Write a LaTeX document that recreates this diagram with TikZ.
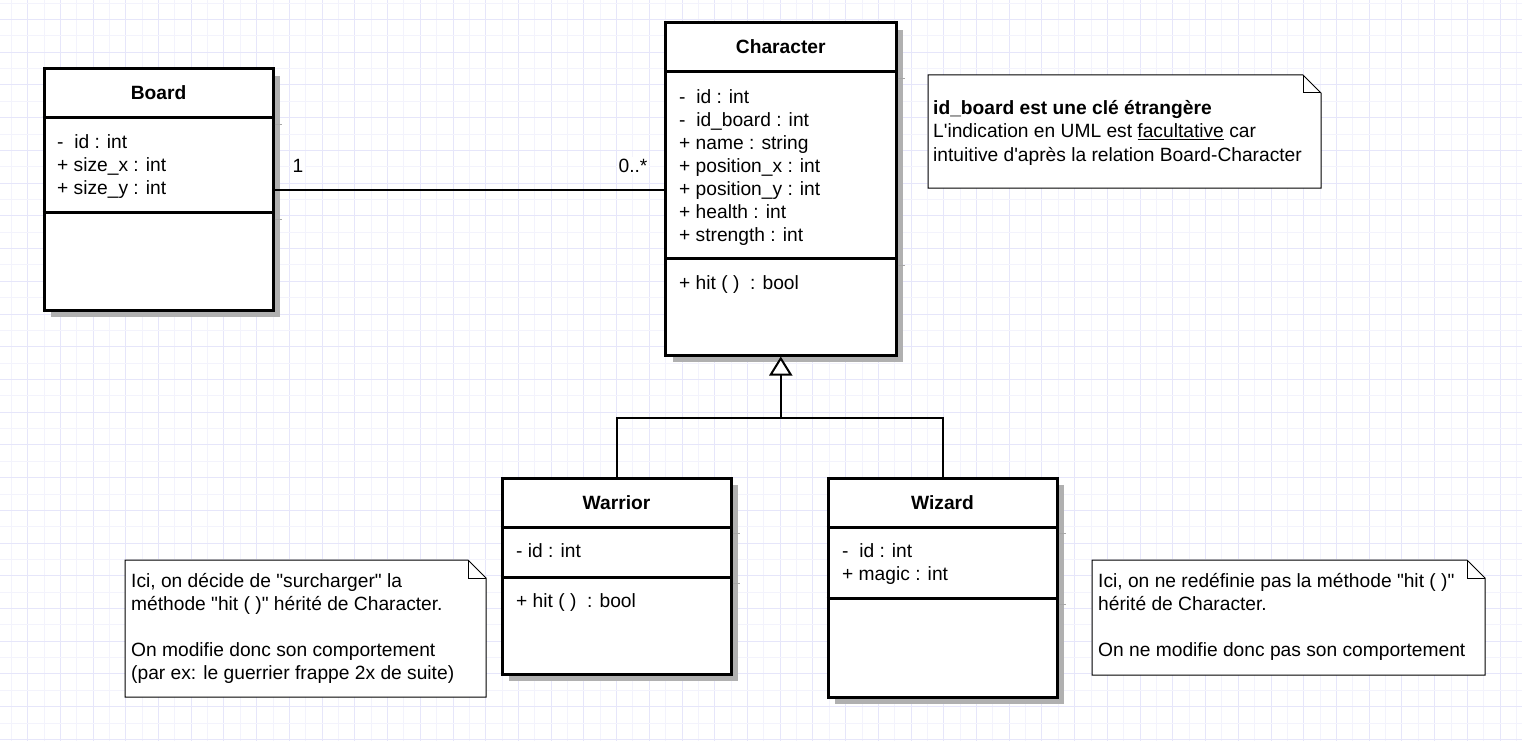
\documentclass[tikz,border=0pt]{standalone}
\usepackage{fontspec}
\setmainfont{Liberation Sans}
\usetikzlibrary{arrows.meta,shadows}
\definecolor{gridlight}{HTML}{F3F3FC}
\definecolor{griddark}{HTML}{E6E6FA}
\definecolor{shadowgray}{HTML}{B0B0B0}
\newcommand\umlfont{\fontsize{19.2}{23}\selectfont}
\tikzset{
  umlbox/.style={draw=black, line width=3pt, fill=white,
    drop shadow={shadow xshift=7pt, shadow yshift=-7pt, fill=shadowgray, opacity=1}},
  divider/.style={line width=3pt},
  txt/.style={anchor=base west, inner sep=0pt, font=\umlfont},
  head/.style={anchor=base, inner sep=0pt, font=\umlfont\bfseries},
  note/.style={draw=black, line width=1pt, fill=white},
  noteline/.style={draw=black, line width=1pt},
  assoc/.style={line width=1.5pt},
  gen/.style={line width=2pt},
  tick/.style={draw=gray!70, line width=1pt},
  mult/.style={anchor=base, inner sep=1.5pt, fill=white, font=\umlfont},
}
\begin{document}
\begin{tikzpicture}[x=1pt,y=-1pt]
\useasboundingbox (0,0) rectangle (1522,741);
\fill[white] (0,0) rectangle (1522,741);
% grid
\foreach \i in {0,...,93}{\pgfmathsetmacro\gx{11.3+16.36*\i}\ifodd\i\draw[griddark,line width=1pt] (\gx,0)--(\gx,741);\else\draw[gridlight,line width=1pt] (\gx,0)--(\gx,741);\fi}
\foreach \i in {0,...,45}{\pgfmathsetmacro\gy{3.2+16.36*\i}\ifodd\i\draw[griddark,line width=1pt] (0,\gy)--(1522,\gy);\else\draw[gridlight,line width=1pt] (0,\gy)--(1522,\gy);\fi}

% ---------- Board
\node[umlbox, minimum width=229pt, minimum height=241pt] (board) at (158.5,189.5) {};
\draw[divider] (board.west |- 0,117.3) -- (board.east |- 0,117.3);
\draw[divider] (board.west |- 0,212) -- (board.east |- 0,212);
\draw[tick] (board.east |- 0,124.5) -- ++(7,0);
\draw[tick] (board.east |- 0,219) -- ++(7,0);
\node[head] (boardT) at (158.5,100) {Board};
\node[txt] (boardA1) at (57,148) {-\ \ id : int};
\node[txt] (boardA2) at (57,171) {+ size\_x : int};
\node[txt] (boardA3) at (57,194) {+ size\_y : int};

% ---------- Character
\node[umlbox, minimum width=230.5pt, minimum height=332pt] (char) at (780.75,189) {};
\draw[divider] (char.west |- 0,71.7) -- (char.east |- 0,71.7);
\draw[divider] (char.west |- 0,258.3) -- (char.east |- 0,258.3);
\draw[tick] (char.east |- 0,78.5) -- ++(7,0);
\draw[tick] (char.east |- 0,265) -- ++(7,0);
\node[head] (charT) at (780.75,54) {Character};
\node[txt] (charA1) at (679,103) {-\ \ id : int};
\node[txt] (charA2) at (679,126) {-\ \ id\_board : int};
\node[txt] (charA3) at (679,149) {+ name : string};
\node[txt] (charA4) at (679,172) {+ position\_x : int};
\node[txt] (charA5) at (679,195) {+ position\_y : int};
\node[txt] (charA6) at (679,218) {+ health : int};
\node[txt] (charA7) at (679,241) {+ strength : int};
\node[txt] (charM1) at (679,289) {+ hit ( )\ \ : bool};

% ---------- Warrior
\node[umlbox, minimum width=229pt, minimum height=196pt] (warrior) at (616.5,576) {};
\draw[divider] (warrior.west |- 0,527) -- (warrior.east |- 0,527);
\draw[divider] (warrior.west |- 0,577) -- (warrior.east |- 0,577);
\draw[tick] (warrior.east |- 0,533.5) -- ++(7,0);
\draw[tick] (warrior.east |- 0,583.5) -- ++(7,0);
\node[head] (warT) at (616.5,509) {Warrior};
\node[txt] (warA1) at (516,557) {- id : int};
\node[txt] (warM1) at (516,607) {+ hit ( )\ \ : bool};

% ---------- Wizard
\node[umlbox, minimum width=229pt, minimum height=219pt] (wizard) at (942.5,587.5) {};
\draw[divider] (wizard.west |- 0,527) -- (wizard.east |- 0,527);
\draw[divider] (wizard.west |- 0,598) -- (wizard.east |- 0,598);
\draw[tick] (wizard.east |- 0,533.5) -- ++(7,0);
\draw[tick] (wizard.east |- 0,604.5) -- ++(7,0);
\node[head] (wizT) at (942.5,509) {Wizard};
\node[txt] (wizA1) at (842,557) {-\ \ id : int};
\node[txt] (wizA2) at (842,580) {+ magic : int};

% ---------- association
\coordinate (ay) at (0,190);
\draw[assoc] (board.east |- ay) -- (char.west |- ay);
\node[mult] (m1) at (298,172) {1};
\node[mult] (m2) at (633,172) {0..*};

% ---------- generalization
\coordinate (junc) at (780.75,418);
\draw[gen] (warrior.north) |- (junc);
\draw[gen] (wizard.north) |- (junc);
\draw[gen, -{Triangle[open, length=19pt 0 0, width=23pt 0 0, fill=white]}] (junc) -- (char.south);

% ---------- notes
\draw[note] (928,75) -- (1303,75) -- (1321,93) -- (1321,188) -- (928,188) -- cycle;
\draw[noteline] (1303,75) -- (1303,93) -- (1321,93);
\node[txt, font=\umlfont\bfseries] (n1a) at (933,115) {id\_board est une clé étrangère};
\node[txt] (n1b) at (933,138) {L\textquotesingle indication en UML est \underline{facultative} car};
\node[txt] (n1c) at (933,161) {intuitive d\textquotesingle après la relation Board-Character};

\draw[note] (125,560) -- (468,560) -- (486,578) -- (486,697) -- (125,697) -- cycle;
\draw[noteline] (468,560) -- (468,578) -- (486,578);
\node[txt] (n2a) at (131,587) {Ici, on décide de \textquotedbl surcharger\textquotedbl\ la};
\node[txt] (n2b) at (131,610) {méthode \textquotedbl hit ( )\textquotedbl\ hérité de Character.};
\node[txt] (n2c) at (131,656) {On modifie donc son comportement};
\node[txt] (n2d) at (131,679) {(par ex: le guerrier frappe 2x de suite)};

\draw[note] (1092,560) -- (1467,560) -- (1485,578) -- (1485,675) -- (1092,675) -- cycle;
\draw[noteline] (1467,560) -- (1467,578) -- (1485,578);
\node[txt] (n3a) at (1098,587) {Ici, on ne redéfinie pas la méthode \textquotedbl hit ( )\textquotedbl};
\node[txt] (n3b) at (1098,610) {hérité de Character.};
\node[txt] (n3c) at (1098,656) {On ne modifie donc pas son comportement};
\end{tikzpicture}
\end{document}
